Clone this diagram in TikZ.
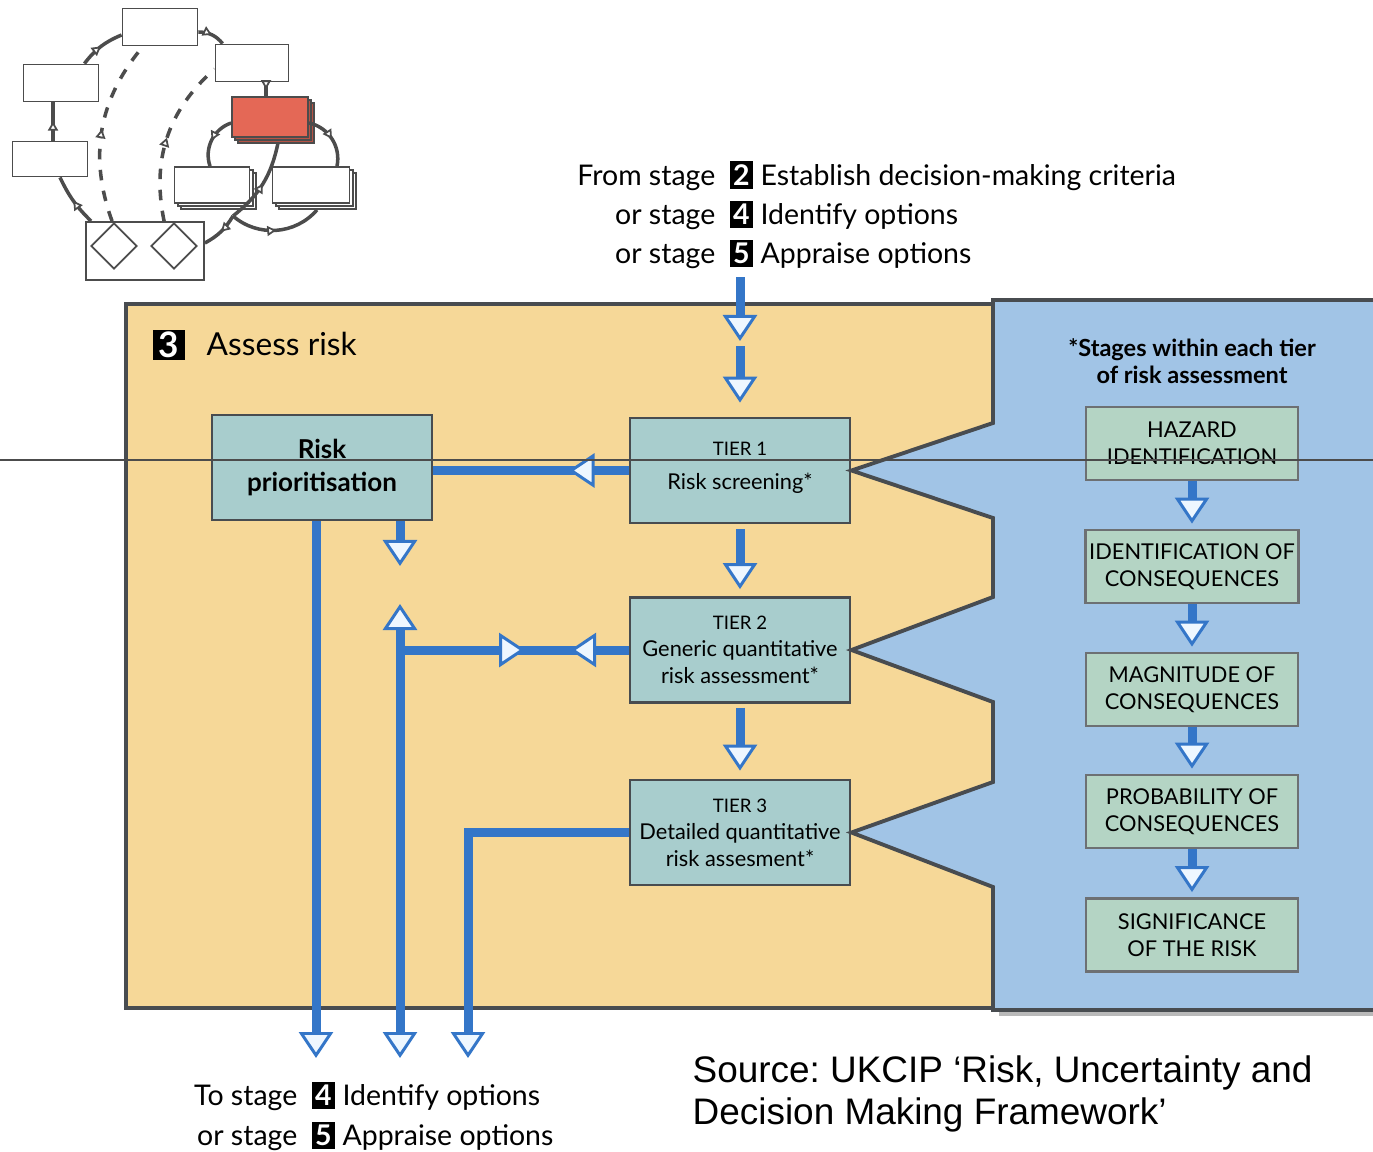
\documentclass[tikz,border=0pt]{standalone}
\usepackage{fontspec}
\setmainfont{Lato}
\newfontfamily\captionfont{Liberation Sans}
\usetikzlibrary{positioning,arrows.meta,calc,shapes.geometric,decorations.markings}

\definecolor{panelorange}{RGB}{246,216,152}
\definecolor{panelblue}{RGB}{161,196,230}
\definecolor{boxteal}{RGB}{168,205,205}
\definecolor{boxsage}{RGB}{180,212,196}
\definecolor{flowblue}{RGB}{52,118,200}
\definecolor{tipfill}{RGB}{238,247,255}
\definecolor{edgegrey}{RGB}{72,76,80}
\definecolor{minired}{RGB}{228,104,86}

% black square with the stage number
\newcommand\stagenum[1]{{\setlength\fboxsep{1pt}\colorbox{black}{\textcolor{white}{\bfseries #1}}}}

\tikzset{
  opentip/.tip={Triangle[fill=tipfill, line width=0.85pt, length=0.26cm, width=0.34cm]},
  minitip/.tip={Triangle[fill=white, line width=0.5pt, length=0.09cm, width=0.10cm]},
  bar/.style={draw=flowblue, line width=0.09cm},
  flow/.style={bar, -{opentip}},
  midtip/.style={postaction={decorate}, decoration={markings,
      mark=at position #1 with {\arrow{opentip}}}},
  tierbox/.style={draw=edgegrey, fill=boxteal, line width=0.8pt, align=center,
      minimum width=2.2cm, minimum height=1.05cm, inner sep=1pt,
      font=\fontsize{6.2}{7.7}\selectfont},
  stagebox/.style={draw=edgegrey!80, fill=boxsage, line width=0.8pt, align=center,
      minimum width=2.12cm, minimum height=0.73cm, inner sep=1pt,
      font=\fontsize{6.2}{7.7}\selectfont},
  fromtxt/.style={font=\fontsize{8.1}{10}\selectfont, inner sep=0pt,
      text height=1.6ex, text depth=0.4ex},
  minibox/.style={draw=gray!60!black, fill=white, line width=0.5pt, inner sep=0pt},
  miniline/.style={draw=gray!60!black, line width=1pt, postaction={decorate},
      decoration={markings, mark=at position 0.5 with {\arrow{minitip}}}},
}

\begin{document}
\begin{tikzpicture}[x=0.01cm, y=-0.01cm]
  \path[use as bounding box, clip] (0,0) rectangle (1373,1151);

  %----- inset: the whole framework, stage 3 in red -----
  \foreach \d in {6,3} {
    \draw[minibox, fill=minired!80!black] (232+\d,97+\d) rectangle ++(76,40);
    \draw[minibox] (175+\d,167+\d) rectangle ++(75,36);
    \draw[minibox] (273+\d,167+\d) rectangle ++(77,36);
  }
  \node[minibox, minimum width=0.75cm, minimum height=0.37cm] (mA) at (160,27) {};
  \node[minibox, minimum width=0.73cm, minimum height=0.37cm] (mB) at (252,63) {};
  \node[minibox, minimum width=0.75cm, minimum height=0.37cm] (mC) at (61,83) {};
  \node[minibox, minimum width=0.75cm, minimum height=0.35cm] (mD) at (50,159) {};
  \node[minibox, fill=minired, minimum width=0.76cm, minimum height=0.40cm] (mR) at (270,117) {};
  \node[minibox, minimum width=0.75cm, minimum height=0.36cm] (mE) at (212,185) {};
  \node[minibox, minimum width=0.77cm, minimum height=0.36cm] (mF) at (311,185) {};
  \node[minibox, minimum width=1.18cm, minimum height=0.58cm] (mG) at (145,251) {};
  \node[minibox, diamond, minimum size=0.46cm] (mG1) at (114,246) {};
  \node[minibox, diamond, minimum size=0.46cm] (mG2) at (174,246) {};
  \coordinate (mJ) at (233,216);

  \draw[miniline] (mD.north -| 53,0) -- (mC.south -| 53,0);
  \draw[miniline] ($(mC.north east)+(-15,0)$) to[bend left=15] ($(mA.west)+(0,8)$);
  \draw[miniline] ($(mA.east)+(0,5)$) to[bend left=25] ($(mB.north west)+(8,0)$);
  \draw[miniline] (mB.south -| 266,0) -- (mR.north -| 266,0);
  \draw[miniline] ($(mR.west)+(0,6)$) to[bend right=45] ($(mE.north)+(-2,0)$);
  \draw[miniline] ($(mR.east)+(0,6)$) to[bend left=45] ($(mF.north)+(26,0)$);
  \draw[miniline] (mJ) to[bend right=20] ($(mR.south)+(8,5)$);
  \draw[miniline] (mJ) to[bend right=45] ($(mF.south)+(6,6)$);
  \draw[miniline] (mJ) to[bend left=15] ($(mG.east)+(0,-8)$);
  \draw[miniline] ($(mG.north west)+(6,0)$) to[bend left=10] ($(mD.south)+(10,0)$);
  \draw[miniline, dashed] ($(mG.north west)+(27,0)$) to[bend left=30] ($(mA.south)+(-17,0)$);
  \draw[miniline, dashed] ($(mG.north west)+(79,0)$) to[bend left=30] ($(mB.west)+(0,6)$);

  %----- where the stage is entered from -----
  \node[fromtxt, anchor=east] (fromA) at (716,175) {From stage};
  \node[fromtxt, anchor=east] (fromB) at (716,214) {or stage};
  \node[fromtxt, anchor=east] (fromC) at (716,253) {or stage};
  \node[fromtxt, anchor=west] (critA) at (729,175) {\stagenum{2} Establish decision-making criteria};
  \node[fromtxt, anchor=west] (critB) at (729,214) {\stagenum{4} Identify options};
  \node[fromtxt, anchor=west] (critC) at (729,253) {\stagenum{5} Appraise options};

  %----- the two panels -----
  \fill[gray!55] (999,306) rectangle (1380,1016);
  \draw[edgegrey, line width=1.1pt, fill=panelorange] (126,304) rectangle (993,1008);

  \node[tierbox] (t1) at (740,470.5) {{\fontsize{5.3}{6}\selectfont TIER 1}\\[2pt] Risk screening*\\[-5pt]\mbox{}};
  \node[tierbox] (t2) at (740,650) {{\fontsize{5.3}{6}\selectfont TIER 2}\\ Generic quantitative\\ risk assessment*};
  \node[tierbox] (t3) at (740,832.5) {{\fontsize{5.3}{6}\selectfont TIER 3}\\ Detailed quantitative\\ risk assesment*};

  \draw[edgegrey, line width=1.1pt, fill=panelblue]
    (993,300) -- (1380,300) -- (1380,1010) -- (993,1010) -- (993,887)
    -- (t3.east) -- (993,782) -- (993,702) -- (t2.east) -- (993,597)
    -- (993,518) -- (t1.east) -- (993,423) -- cycle;

  %----- stage 3 panel -----
  \node[fill=black, text=white, font=\bfseries\fontsize{10}{10}\selectfont,
        minimum width=0.31cm, minimum height=0.30cm, inner sep=0pt] (n3) at (169,345) {3};
  \node[fromtxt, anchor=west, font=\fontsize{9}{10}\selectfont] (assess) at (206,345) {Assess risk};

  \node[tierbox, font=\bfseries\fontsize{7.4}{9.4}\selectfont] (prio) at (322,467.5) {Risk\\ prioritisation};

  %----- stages within each tier -----
  \node[font=\bfseries\fontsize{6.7}{7.5}\selectfont, align=center] (tiernote) at (1192,361)
    {*Stages within each tier\\ of risk assessment};
  \node[stagebox] (s1) at (1192,443.5) {HAZARD\\ IDENTIFICATION};
  \node[stagebox] (s2) at (1192,566.5) {IDENTIFICATION OF\\ CONSEQUENCES};
  \node[stagebox] (s3) at (1192,689.5) {MAGNITUDE OF\\ CONSEQUENCES};
  \node[stagebox] (s4) at (1192,811.5) {PROBABILITY OF\\ CONSEQUENCES};
  \node[stagebox] (s5) at (1192,935) {SIGNIFICANCE\\ OF THE RISK};
  \foreach \a/\b in {s1/s2, s2/s3, s3/s4, s4/s5}
    \draw[flow, shorten >=0.05cm] (\a) -- (\b);

  %----- flows between the tiers -----
  \coordinate (inA) at (740,277);
  \coordinate (inB) at (740,341);
  \coordinate (inC) at (740,346);
  \draw[flow] (inA) -- (inB);
  \draw[flow, shorten >=0.14cm] (inC) -- (t1.north);
  \draw[flow, shorten <=0.05cm, shorten >=0.07cm] (t1.south) -- (t2.north);
  \draw[flow, shorten <=0.04cm, shorten >=0.08cm] (t2.south) -- (t3.north);
  \draw[bar, midtip=0.6cm] (t1.west) -- (t1.west -| prio.east);

  %----- flows out of the stage -----
  \coordinate (out1) at (316,1058);
  \coordinate (out2) at (400,1058);
  \coordinate (out3) at (468,1058);
  \coordinate (j1) at (400,566);
  \coordinate (j2) at (400,604);
  \draw[flow] (prio.south -| out1) -- (out1);
  \draw[flow] (prio.south -| j1) -- (j1);
  \draw[bar, {opentip}-{opentip}] (j2) -- (out2);
  \draw[bar, postaction={decorate}, decoration={markings,
      mark=at position 1.25cm with {\arrow{opentip}},
      mark=at position 1.70cm with {\arrowreversed{opentip}}}]
    (j2 |- t2.west) -- (t2.west);
  \draw[flow] (t3.west) -| (out3);

  \node[fromtxt, anchor=east] (toA) at (298,1095) {To stage};
  \node[fromtxt, anchor=east] (toB) at (298,1135) {or stage};
  \node[fromtxt, anchor=west] (optA) at (311,1095) {\stagenum{4} Identify options};
  \node[fromtxt, anchor=west] (optB) at (311,1135) {\stagenum{5} Appraise options};

  %----- source -----
  \node[anchor=north west, align=left, inner sep=0pt,
        font=\captionfont\fontsize{10.5}{11.9}\selectfont] (source) at (692,1055)
    {\frenchspacing Source: UKCIP ‘Risk, Uncertainty and\\ Decision Making Framework’};

  \draw[gray!60!black, line width=0.4pt] (0,460) -- (1373,460);
\end{tikzpicture}
\end{document}
